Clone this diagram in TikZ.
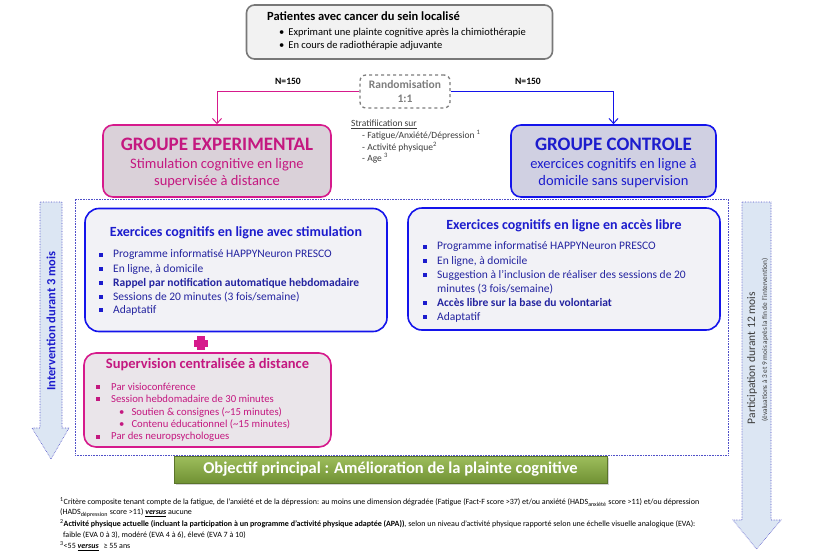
\documentclass[tikz,border=0pt]{standalone}
\usepackage{fontspec}
\setmainfont{Carlito}
\usetikzlibrary{arrows.meta,shadows}
\definecolor{magB}{RGB}{214,26,140}
\definecolor{magT}{RGB}{196,24,128}
\definecolor{expF}{RGB}{218,209,217}
\definecolor{conF}{RGB}{208,208,226}
\definecolor{bluB}{RGB}{20,20,235}
\definecolor{bluT}{RGB}{28,28,205}
\definecolor{bluD}{RGB}{36,36,160}
\definecolor{exF}{RGB}{242,242,246}
\definecolor{supF}{RGB}{234,229,234}
\definecolor{grayB}{RGB}{120,120,120}
\definecolor{grayF}{RGB}{242,242,242}
\definecolor{grayT}{RGB}{125,125,125}
\definecolor{darkT}{RGB}{60,60,60}
\definecolor{arrF}{RGB}{220,230,243}
\definecolor{arrB}{RGB}{80,80,200}
\definecolor{grnT}{RGB}{158,190,92}
\definecolor{grnB}{RGB}{112,145,52}
\tikzset{
  rbox/.style={draw, rectangle, line width=1.6pt, inner sep=0pt},
  txt/.style={inner sep=0pt, anchor=west},
  ctxt/.style={inner sep=0pt, anchor=center},
  exb/.style={txt, font=\fontsize{11.5}{13}\selectfont, text=bluD},
  supb/.style={txt, font=\fontsize{10.7}{12}\selectfont, text=magT},
  fn/.style={txt, font=\fontsize{8}{9}\selectfont, text=black},
  strat/.style={txt, text=darkT, font=\fontsize{9.5}{11}\selectfont},
}
\newcommand\sqbul[3]{\fill[#3] (#1-2,#2-2) rectangle (#1+2,#2+2);}
\begin{document}
\begin{tikzpicture}[x=1pt,y=-1pt]
\useasboundingbox (0,0) rectangle (813,554);
\fill[white] (0,0) rectangle (813,554);

% top box
\node[rbox, draw=grayB, fill=grayF, rounded corners=8pt, minimum width=306pt, minimum height=54pt] (top) at (399.5,32) {};
\node[txt, font=\fontsize{12.5}{14}\selectfont\bfseries] (toptitle) at (267,16.5) {Patientes avec cancer du sein localisé};
\node[txt, font=\fontsize{10.5}{12}\selectfont] (topb1) at (279,33) {\textbullet\hspace{4pt}Exprimant une plainte cognitive après la chimiothérapie};
\node[txt, font=\fontsize{10.5}{12}\selectfont] (topb2) at (279,46) {\textbullet\hspace{4pt}En cours de radiothérapie adjuvante};

% randomisation
\node[rbox, draw=grayT, fill=white, dashed, line width=1.3pt, rounded corners=6pt, minimum width=90pt, minimum height=33pt, align=center, text=grayT, font=\fontsize{11.5}{14}\selectfont\bfseries] (rando) at (405,91.5) {Randomisation\\1:1};
\node[ctxt, font=\fontsize{9.6}{11}\selectfont\bfseries] (nl) at (288,81) {N=150};
\node[ctxt, font=\fontsize{9.6}{11}\selectfont\bfseries] (nr) at (528,81) {N=150};

% groups
\node[rbox, draw=magB, fill=expF, rounded corners=10pt, minimum width=228pt, minimum height=72pt] (exp) at (217,161) {};
\node[ctxt, text=magT, font=\fontsize{19}{21}\selectfont\bfseries] (expt) at (217,144) {GROUPE EXPERIMENTAL};
\node[ctxt, text=magT, font=\fontsize{14.5}{16}\selectfont] (exps1) at (217,165) {Stimulation cognitive en ligne};
\node[ctxt, text=magT, font=\fontsize{14.5}{16}\selectfont] (exps2) at (217,182) {supervisée à distance};

\node[rbox, draw=bluB, fill=conF, rounded corners=10pt, minimum width=205pt, minimum height=72pt] (con) at (613.5,161) {};
\node[ctxt, text=bluT, font=\fontsize{19}{21}\selectfont\bfseries] (cont) at (613.5,144) {GROUPE CONTROLE};
\node[ctxt, text=bluT, font=\fontsize{14.5}{16}\selectfont] (cons1) at (613.5,165) {exercices cognitifs en ligne à};
\node[ctxt, text=bluT, font=\fontsize{14.5}{16}\selectfont] (cons2) at (613.5,182) {domicile sans supervision};

\draw[magB, line width=1pt, -{Straight Barb[length=5pt,width=9pt]}] (rando.west) -| (exp.north);
\draw[bluB, line width=1pt, -{Straight Barb[length=5pt,width=9pt]}] (rando.east) -| (con.north);

% stratification
\node[strat] (s0) at (351,124) {\underline{Stratifiication sur}};
\node[strat] (s1) at (362,135.5) {- Fatigue/Anxiété/Dépression \textsuperscript{1}};
\node[strat] (s2) at (362,147) {- Activité physique\textsuperscript{2}};
\node[strat] (s3) at (362,158.5) {- Age \textsuperscript{3}};

% dotted frame
\node[draw=arrB, densely dotted, line width=0.6pt, rectangle, inner sep=0pt, minimum width=653pt, minimum height=256pt] (frame) at (401.5,327) {};

% arrows
\draw[arrB, densely dotted, line width=0.6pt, fill=arrF] (40,202) -- (62,202) -- (62,428) -- (69,428) -- (51,459) -- (32,428) -- (40,428) -- cycle;
\draw[arrB, densely dotted, line width=0.6pt, fill=arrF] (742,202) -- (771,202) -- (771,520) -- (781,520) -- (756.5,549) -- (733,520) -- (742,520) -- cycle;
\node[ctxt, rotate=90, text=bluT, font=\fontsize{12.5}{14}\selectfont\bfseries] (arrl) at (51,321) {Intervention durant 3 mois};
\node[ctxt, rotate=90, text=darkT, font=\fontsize{11.5}{13}\selectfont] (arrr1) at (752,358) {Participation durant 12 mois};
\node[ctxt, rotate=90, text=darkT, font=\fontsize{7.3}{8}\selectfont] (arrr2) at (765,340) {(évaluations à 3 et 9 mois après la fin de l'intervention)};

% left exercises
\node[rbox, draw=bluB, fill=exF, rounded corners=14pt, minimum width=302pt, minimum height=123pt] (exl) at (236,270) {};
\node[ctxt, text=bluT, font=\fontsize{14}{16}\selectfont\bfseries] (exlt) at (236,233) {Exercices cognitifs en ligne avec stimulation};
\sqbul{101}{255}{bluT}\node[exb] (exl1) at (113,255) {Programme informatisé HAPPYNeuron PRESCO};
\sqbul{101}{269}{bluT}\node[exb] (exl2) at (113,269) {En ligne, à domicile};
\sqbul{101}{283}{bluT}\node[exb, font=\fontsize{11.5}{13}\selectfont\bfseries] (exl3) at (113,283) {Rappel par notification automatique hebdomadaire};
\sqbul{101}{297}{bluT}\node[exb] (exl4) at (113,297) {Sessions de 20 minutes (3 fois/semaine)};
\sqbul{101}{310}{bluT}\node[exb] (exl5) at (113,310) {Adaptatif};

% right exercises
\node[rbox, draw=bluB, fill=exF, rounded corners=14pt, minimum width=312pt, minimum height=122pt] (exr) at (564,269) {};
\node[ctxt, text=bluT, font=\fontsize{14}{16}\selectfont\bfseries] (exrt) at (564,226) {Exercices cognitifs en ligne en accès libre};
\sqbul{425}{247}{bluT}\node[exb] (exr1) at (437,247) {Programme informatisé HAPPYNeuron PRESCO};
\sqbul{425}{261}{bluT}\node[exb] (exr2) at (437,261) {En ligne, à domicile};
\sqbul{425}{275}{bluT}\node[exb] (exr3) at (437,275) {Suggestion à l’inclusion de réaliser des sessions de 20};
\node[exb] (exr3b) at (437,289) {minutes (3 fois/semaine)};
\sqbul{425}{303}{bluT}\node[exb, font=\fontsize{11.5}{13}\selectfont\bfseries] (exr4) at (437,303) {Accès libre sur la base du volontariat};
\sqbul{425}{317}{bluT}\node[exb] (exr5) at (437,317) {Adaptatif};

% plus
\fill[magB] (197,336) rectangle (205,350);
\fill[magB] (194,339.5) rectangle (208,346.5);
\node[inner sep=0pt, minimum size=14pt] (plus) at (201,343) {};

% supervision
\node[rbox, draw=magB, fill=supF, rounded corners=12pt, minimum width=247pt, minimum height=94pt] (sup) at (207.5,400) {};
\node[ctxt, text=magT, font=\fontsize{14.5}{16}\selectfont\bfseries] (supt) at (207.5,365) {Supervision centralisée à distance};
\sqbul{98}{387}{magT}\node[supb] (sup1) at (111,387) {Par visioconférence};
\sqbul{98}{399}{magT}\node[supb] (sup2) at (111,399) {Session hebdomadaire de 30 minutes};
\node[supb] (sup3) at (119,412) {\textbullet\hspace{7pt}Soutien \& consignes (\textasciitilde15 minutes)};
\node[supb] (sup4) at (119,424) {\textbullet\hspace{7pt}Contenu éducationnel (\textasciitilde15 minutes)};
\sqbul{98}{437}{magT}\node[supb] (sup5) at (111,437) {Par des neuropsychologues};

% banner
\node[rectangle, inner sep=0pt, minimum width=433pt, minimum height=27pt, top color=grnT, bottom color=grnB, draw=grnB!80!black, line width=0.4pt, drop shadow={shadow xshift=1.5pt, shadow yshift=-1.5pt, opacity=0.35}, text=white, font=\fontsize{16.5}{18}\selectfont\bfseries] (goal) at (390.5,469.5) {Objectif principal : Amélioration de la plainte cognitive};

% footnotes
\node[fn] (f1) at (60,502) {\textsuperscript{1}Critère composite tenant compte de la fatigue, de l’anxiété et de la dépression: au moins une dimension dégradée (Fatigue (Fact-F score >37) et/ou anxiété (HADS\textsubscript{anxiété} score >11) et/ou dépression};
\node[fn] (f2) at (60,513) {(HADS\textsubscript{dépression} score >11) \underline{\textbf{\textit{versus}}} aucune};
\node[fn] (f3) at (60,524) {\textsuperscript{2}\textbf{Activité physique actuelle (incluant la participation à un programme d’activité physique adaptée (APA))}, selon un niveau d’activité physique rapporté selon une échelle visuelle analogique (EVA):};
\node[fn] (f4) at (60,535) {\hspace{3pt}faible (EVA 0 à 3), modéré (EVA 4 à 6), élevé (EVA 7 à 10)};
\node[fn] (f5) at (60,546) {\textsuperscript{3}<55 \underline{\textbf{\textit{versus}}}\hspace{3pt} ≥ 55 ans};
\end{tikzpicture}
\end{document}
